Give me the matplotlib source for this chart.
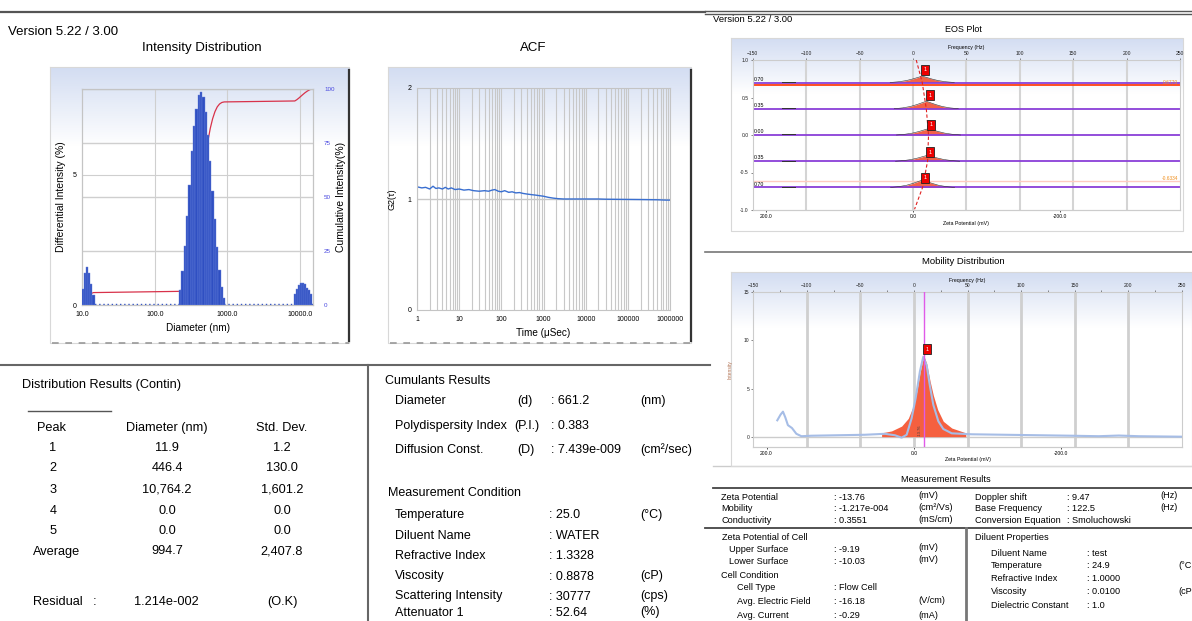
import numpy as np
import matplotlib
matplotlib.use("Agg")
import matplotlib.pyplot as plt
from matplotlib.colors import LinearSegmentedColormap

plt.rcParams['font.family'] = ['Liberation Sans', 'DejaVu Sans']

W, H = 1192, 621

# ---- intensity distribution (Contin) ----
p1_d = [10.3, 11.0, 11.8, 12.6, 13.4, 14.4]
p1_h = [0.63, 1.23, 1.46, 1.23, 0.82, 0.38]
p2_d = [224, 241, 260, 280, 301, 324, 348, 375, 403, 434,
        467, 502, 541, 581, 625, 673, 724, 779, 838, 902]
p2_h = [0.57, 1.30, 2.28, 3.42, 4.60, 5.90, 6.87, 7.53, 8.06, 8.16,
        7.97, 7.40, 6.52, 5.53, 4.37, 3.29, 2.22, 1.33, 0.70, 0.25]
p3_d = [8430, 9000, 9600, 10250, 10950, 11700, 12480, 13320, 14220]
p3_h = [0.44, 0.60, 0.76, 0.85, 0.85, 0.80, 0.67, 0.57, 0.44]
diam_ticks = [10, 100, 1000, 10000]
diam_labels = ['10.0', '100.0', '1000.0', '10000.0']

# ---- ACF ----
acf_t = [1, 1.3, 1.6, 2, 2.4, 2.8, 3.3, 4, 4.7, 5.5, 6.5, 8, 10, 13, 17, 22,
         30, 40, 50, 60, 70, 85, 100, 120, 150, 180, 220, 270, 330, 400, 500,
         650, 800, 1000, 1300, 1700, 2200, 3000, 5000, 10000, 20000, 30000,
         50000, 100000, 200000, 500000, 800000, 1000000]
acf_g = [1.11, 1.10, 1.105, 1.09, 1.115, 1.095, 1.10, 1.09, 1.105, 1.09, 1.10,
         1.085, 1.09, 1.08, 1.085, 1.075, 1.07, 1.075, 1.07, 1.08, 1.085, 1.07,
         1.065, 1.075, 1.06, 1.065, 1.055, 1.058, 1.05, 1.045, 1.04, 1.035,
         1.03, 1.025, 1.015, 1.008, 1.003, 1.0, 1.0, 1.0, 1.0, 0.998, 0.997,
         0.996, 0.995, 0.993, 0.99, 0.99]
acf_ticks = [1, 10, 100, 1000, 10000, 100000, 1000000]
acf_labels = ['1', '10', '100', '1000', '10000', '100000', '1000000']

# ---- EOS plot ----
eos_levels = [0.70, 0.35, 0.0, -0.35, -0.70]
eos_level_labels = ['0.70', '0.35', '0.00', '0.35', '0.70']
eos_center = [8.7, 12.5, 14.6, 13.7, 9.0]      # Hz
eos_height = [0.085, 0.10, 0.085, 0.08, 0.10]
eos_mark_f = [11.5, 16.0, 17.1, 16.0, 11.3]
eos_mark_y = [0.867, 0.533, 0.137, -0.231, -0.573]
peak_off = [-30, -22, -15, -9, -4, 0, 4, 9, 15, 22, 30]
peak_rel = [0.0, 0.12, 0.3, 0.55, 0.8, 1.0, 0.8, 0.55, 0.3, 0.12, 0.0]
eos_fit_f = [3.1, 8.7, 12.5, 14.6, 13.7, 9.0, 1.5]
eos_fit_y = [1.0, 0.70, 0.35, 0.0, -0.35, -0.70, -0.99]
freq_ticks = [-150, -100, -50, 0, 50, 100, 150, 200, 250]
zeta_ticks = [200, 0, -200]
zeta_labels = ['200.0', '0.0', '-200.0']

# ---- mobility distribution ----
mob_f = [-127.6, -124.5, -122.3, -120.1, -117.7, -113.9, -109.8, -105.1, -95.8,
         -70.9, -45.9, -27.2, -17.8, -11.5, -6.8, -2.2, 1.6, 5.6, 8.7, 11.9,
         15.0, 18.1, 22.8, 27.4, 35.3, 54.0, 85.2, 116.4, 147.6, 172.6, 191.3,
         210.0, 250.0]
mob_i = [1.7, 2.3, 2.6, 2.0, 1.2, 0.9, 0.3, 0.05, 0.1, 0.15, 0.2, 0.3, 0.15,
         -0.1, 0.2, 1.9, 4.0, 6.8, 8.3, 7.4, 5.2, 3.3, 1.6, 0.8, 0.35, 0.25,
         0.2, 0.15, 0.1, 0.05, 0.12, 0.05, 0.0]
fit_f = [-30.2, -20.9, -11.5, -5.3, -0.6, 2.5, 5.6, 9.1, 11.9, 15.0, 18.1,
         22.2, 27.4, 35.3, 48.4]
fit_i = [0.4, 0.6, 1.1, 1.9, 3.2, 4.6, 6.6, 8.45, 7.6, 5.8, 4.3, 2.8, 1.6,
         0.9, 0.4]
doppler = 9.47
hz_to_mv = -13.76 / 9.47

fig = plt.figure(figsize=(W / 100, H / 100), dpi=100)
bg = fig.add_axes([0, 0, 1, 1])
bg.set_zorder(-10)
bg.axis('off')


def px_axes(x0, y0, x1, y1):
    a = fig.add_axes([x0 / W, 1 - y1 / H, (x1 - x0) / W, (y1 - y0) / H])
    a.set_facecolor('none')
    return a


grad_cmap = LinearSegmentedColormap.from_list('g', ['#d3ddf2', '#ffffff'])
grad = np.clip(np.linspace(0, 3.5, 200), 0, 1).reshape(-1, 1)


def frame(x0, y0, x1, y1, shadow=True):
    bg.imshow(grad, extent=(x0, x1, y1, y0), aspect='auto', cmap=grad_cmap, zorder=0)
    bg.plot([x0, x1, x1, x0, x0], [y0, y0, y1, y1, y0], color='#d8d8d8', lw=0.8)
    if shadow:
        bg.plot([x1, x1], [y0 + 3, y1 - 2], color='#333333', lw=1.6)
        bg.plot([x0 + 2, x1], [y1, y1], color='#999999', lw=1.2, ls=(0, (4, 4)))


def txt(x, y, s, size=9.2, ha='left', **kw):
    bg.text(x, y, s, fontsize=size, ha=ha, va='center', **kw)


# separators
bg.plot([0, 705], [12, 12], color='#555555', lw=1.6)
bg.plot([705, W], [11, 11], color='#555555', lw=1)
bg.plot([705, W], [14, 14], color='#555555', lw=1)
bg.plot([0, 710], [365, 365], color='#666666', lw=1.5)
bg.plot([368, 368], [365, H], color='#666666', lw=1.5)
bg.plot([705, W], [252, 252], color='#777777', lw=1.2)
bg.plot([713, W], [466, 466], color='#cccccc', lw=1)

frame(50, 67, 349, 343)
frame(388, 67, 691, 343)
frame(731, 38, 1183, 231, shadow=False)
frame(731, 272, 1192, 466, shadow=False)

txt(8, 32, 'Version 5.22 / 3.00', 9.5)
txt(202, 48, 'Intensity Distribution', 9.5, ha='center')
txt(533, 48, 'ACF', 9.5, ha='center')
txt(713, 19, 'Version 5.22 / 3.00', 6.8)
txt(963, 30, 'EOS Plot', 6.5, ha='center')
txt(963, 262, 'Mobility Distribution', 6.8, ha='center')

# ---------------- intensity distribution ----------------
ax_i = px_axes(82, 89, 313, 305)
ax_c = ax_i.twinx()
ax_c.set_facecolor('none')
ax_i.set_zorder(2)
ax_c.set_zorder(1)
ax_i.set_xscale('log')
hw = 0.016
all_d = p1_d + p2_d + p3_d
all_h = p1_h + p2_h + p3_h
left = [d * 10 ** (-hw) for d in all_d]
widths = [d * (10 ** hw - 10 ** (-hw)) for d in all_d]
ax_i.bar(left, all_h, width=widths, align='edge', color='#2f4fc2',
         edgecolor='#6a84dc', lw=0.3, zorder=3)
ax_i.axhline(0.03, color='#3152c4', ls=(0, (1, 2)), lw=1, zorder=2)
ax_i.set_xlim(10, 15000)
ax_i.set_ylim(0, 8.28)
ax_i.set_xticks(diam_ticks)
ax_i.set_xticklabels(diam_labels)
ax_i.xaxis.set_minor_locator(matplotlib.ticker.NullLocator())
ax_i.set_yticks([0, 5])
ax_i.tick_params(length=0, labelsize=5, pad=4)
ax_c.axhline(5 / 8.28 * 100, color='#cfcfcf', lw=0.8, zorder=0)
for xv in diam_ticks[1:]:
    ax_c.axvline(xv, color='#cfcfcf', lw=0.8, zorder=0)
cum = np.cumsum(all_h) / np.sum(all_h) * 100
ax_c.plot(all_d, cum, color='#d8324a', lw=0.9, zorder=2)
ax_c.set_ylim(0, 100)
ax_c.set_yticks([0, 25, 50, 75, 100])
ax_c.tick_params(length=0, labelsize=4.5, labelcolor='#4848e0', pad=8)
ax_c.grid(axis='y', color='#cfcfcf', lw=1)
for a in (ax_i, ax_c):
    for s in a.spines.values():
        s.set_color('#c4c4c4')
        s.set_linewidth(0.8)
ax_i.set_xlabel('Diameter (nm)', fontsize=7.2, labelpad=4)
ax_i.set_ylabel('Differential Intensity (%)', fontsize=7.5, labelpad=5)
ax_c.set_ylabel('Cumulative Intensity(%)', fontsize=7.5, labelpad=1)

# ---------------- ACF ----------------
ax_a = px_axes(417, 88, 670, 310)
ax_a.set_xscale('log')
ax_a.plot(acf_t, acf_g, color='#3a6fd0', lw=1)
ax_a.axhline(1, color='#c8c8c8', lw=1, zorder=0)
ax_a.set_xlim(1, 1000000)
ax_a.set_ylim(0, 2)
ax_a.set_xticks(acf_ticks)
ax_a.set_xticklabels(acf_labels)
ax_a.set_yticks([0, 1, 2])
ax_a.grid(axis='x', which='both', color='#c8c8c8', lw=0.8)
ax_a.set_axisbelow(True)
ax_a.tick_params(which='both', length=0, labelsize=5, pad=4)
for s in ax_a.spines.values():
    s.set_color('#c4c4c4')
    s.set_linewidth(0.8)
ax_a.set_xlabel('Time (\u03bcSec)', fontsize=7.2, labelpad=4)
ax_a.set_ylabel('G2(\u03c4)', fontsize=6.5, labelpad=8)

# ---------------- EOS plot ----------------
ax_e = px_axes(752.7, 60, 1180, 210)
ax_e.set_xlim(-150, 250)
ax_e.set_ylim(-1, 1)
for f in freq_ticks[1:-1]:
    ax_e.axvline(f, color='#d4d4d4', lw=1.5, zorder=0)
for k, lev in enumerate(eos_levels):
    xs = [eos_center[k] + o for o in peak_off]
    ys = [lev + r * eos_height[k] for r in peak_rel]
    ax_e.fill_between(xs, lev, ys, color='#f26248', lw=0, zorder=2)
    ax_e.plot(xs, ys, color='#333333', lw=0.4, zorder=3)
    ax_e.plot([-123, -110], [lev + 0.01, lev + 0.01], color='#333333', lw=0.7, zorder=3)
    ax_e.axhline(lev, color='#8a3fd8', lw=1.3, zorder=2)
    ax_e.text(-149, lev + 0.045, eos_level_labels[k], fontsize=3.8, va='center')
ax_e.axhline(0.667, color='#ff4010', lw=1.3, zorder=2)
ax_e.axhline(-0.613, color='#ffccc0', lw=1, zorder=1)
ax_e.text(248, 0.70, '0.6770', fontsize=3.5, color='#f09020', ha='right', va='center')
ax_e.text(248, -0.585, '-0.6334', fontsize=3.5, color='#f09020', ha='right', va='center')
ax_e.plot(eos_fit_f, eos_fit_y, color='#e02020', lw=0.8, ls=(0, (3, 2)), zorder=4)
for f, y in zip(eos_mark_f, eos_mark_y):
    ax_e.text(f, y, '1', fontsize=4, color='white', ha='center', va='center', zorder=5,
              bbox=dict(boxstyle='square,pad=0.45', fc='#ee0000', ec='#222222', lw=0.6))
ax_e.set_yticks([1.0, 0.5, 0.0, -0.5, -1.0])
ax_e.set_yticklabels(['1.0', '0.5', '0.0', '-0.5', '-1.0'])
ax_e.xaxis.tick_top()
ax_e.set_xticks(freq_ticks)
ax_e.tick_params(labelsize=3.6, length=1.5, width=0.5, pad=1.5, colors='#555555', labelcolor='#222222')
ax_e.set_xlabel('Frequency (Hz)', fontsize=3.8, labelpad=1)
ax_e.xaxis.set_label_position('top')
sec_e = ax_e.secondary_xaxis('bottom', functions=(lambda f: f * hz_to_mv, lambda z: z / hz_to_mv))
sec_e.set_xticks(zeta_ticks)
sec_e.set_xticklabels(zeta_labels)
sec_e.tick_params(labelsize=3.6, length=1.5, width=0.5, pad=1.5)
sec_e.set_xlabel('Zeta Potential (mV)', fontsize=3.8, labelpad=1)
for s in list(ax_e.spines.values()) + list(sec_e.spines.values()):
    s.set_color('#cccccc')

# ---------------- mobility distribution ----------------
ax_m = px_axes(753.3, 292.3, 1181.7, 446.7)
ax_m.set_xlim(-150, 250)
ax_m.set_ylim(-1.04, 15)
for f in freq_ticks[1:-1]:
    ax_m.axvline(f, color='#cfcfcf', lw=2, zorder=0)
ax_m.axhline(0, color='#cccccc', lw=1, zorder=0)
ax_m.fill_between(fit_f, 0, fit_i, color='#f5603f', lw=0, zorder=2)
ax_m.plot(mob_f, mob_i, color='#a6bde6', lw=1.5, zorder=3)
ax_m.axvline(doppler, color='#e05ae8', lw=1, zorder=4)
ax_m.text(doppler - 2.5, 0.1, '-13.76', fontsize=3, rotation=90, ha='right', va='bottom', color='#444444')
ax_m.text(12.2, 9.1, '1', fontsize=4, color='white', ha='center', va='center', zorder=5,
          bbox=dict(boxstyle='square,pad=0.45', fc='#ee0000', ec='#222222', lw=0.6))
ax_m.xaxis.tick_top()
ax_m.set_xticks(freq_ticks)
ax_m.set_xticks(range(-150, 251, 25), minor=True)
ax_m.set_yticks([0, 5, 10, 15])
ax_m.tick_params(which='both', labelsize=3.6, length=1.5, width=0.5, pad=1.5, colors='#555555', labelcolor='#222222')
ax_m.set_xlabel('Frequency (Hz)', fontsize=3.8, labelpad=1)
ax_m.xaxis.set_label_position('top')
ax_m.set_ylabel('Intensity', fontsize=3.6, color='#b07050', labelpad=8)
sec_m = ax_m.secondary_xaxis('bottom', functions=(lambda f: f * hz_to_mv, lambda z: z / hz_to_mv))
sec_m.set_xticks(zeta_ticks)
sec_m.set_xticklabels(zeta_labels)
sec_m.tick_params(labelsize=3.6, length=1.5, width=0.5, pad=1.5)
sec_m.set_xlabel('Zeta Potential (mV)', fontsize=3.8, labelpad=1)
for s in list(ax_m.spines.values()) + list(sec_m.spines.values()):
    s.set_color('#cccccc')

# ---------------- distribution results table ----------------
peaks = ['1', '2', '3', '4', '5']
peak_diam = ['11.9', '446.4', '10,764.2', '0.0', '0.0']
peak_sd = ['1.2', '130.0', '1,601.2', '0.0', '0.0']
avg_diam, avg_sd = '994.7', '2,407.8'
residual = '1.214e-002'

txt(22, 385, 'Distribution Results (Contin)', 9.2)
bg.plot([28, 111], [411, 411], color='#555555', lw=1)
txt(52, 428, 'Peak', 9.2, ha='center')
txt(167, 428, 'Diameter (nm)', 9.2, ha='center')
txt(282, 428, 'Std. Dev.', 9.2, ha='center')
row_y = [448, 468, 490, 511, 531.5]
for y, p, d, s in zip(row_y, peaks, peak_diam, peak_sd):
    txt(53, y, p, 9.2, ha='center')
    txt(167, y, d, 9.2, ha='center')
    txt(282, y, s, 9.2, ha='center')
txt(33, 551.5, 'Average', 9.2)
txt(167, 551.5, avg_diam, 9.2, ha='center')
txt(282, 551.5, avg_sd, 9.2, ha='center')
txt(33, 602, 'Residual   :', 9.2)
txt(166, 602, residual, 9.2, ha='center')
txt(282, 602, '(O.K)', 9.2, ha='center')

# ---------------- cumulants / measurement condition ----------------
txt(385, 381, 'Cumulants Results', 9)
cum_rows = [('Diameter', '(d)', ': 661.2', '(nm)', 401),
            ('Polydispersity Index', '(P.I.)', ': 0.383', '', 426),
            ('Diffusion Const.', '(D)', ': 7.439e-009', '(cm\u00b2/sec)', 450)]
for name, sym, val, unit, y in cum_rows:
    txt(395, y, name, 9)
    txt(514 if sym == '(P.I.)' else 517, y, sym, 9)
    txt(551, y, val, 9)
    txt(640, y, unit, 9)
txt(388, 493, 'Measurement Condition', 9)
cond_rows = [('Temperature', ': 25.0', '(\u00b0C)', 515),
             ('Diluent Name', ': WATER', '', 536),
             ('Refractive Index', ': 1.3328', '', 556),
             ('Viscosity', ': 0.8878', '(cP)', 576.5),
             ('Scattering Intensity', ': 30777', '(cps)', 596.5),
             ('Attenuator 1', ': 52.64', '(%)', 612.5)]
for name, val, unit, y in cond_rows:
    txt(395, y, name, 9)
    txt(549, y, val, 9)
    txt(640, y, unit, 9)

# ---------------- measurement results (zeta) ----------------
fs = 6.6
txt(946, 480, 'Measurement Results', fs, ha='center')
bg.plot([713, W], [487.5, 487.5], color='#444444', lw=1.3)
bg.plot([705, W], [527.5, 527.5], color='#444444', lw=1.3)
bg.plot([965.5, 965.5], [528, H], color='#777777', lw=2)
res_rows = [('Zeta Potential', ': -13.76', '(mV)', 'Doppler shift', ': 9.47', '(Hz)', 497),
            ('Mobility', ': -1.217e-004', '(cm\u00b2/Vs)', 'Base Frequency', ': 122.5', '(Hz)', 508.5),
            ('Conductivity', ': 0.3551', '(mS/cm)', 'Conversion Equation', ': Smoluchowski', '', 520.5)]
for a, b, c, d, e, f, y in res_rows:
    txt(721, y, a, fs)
    txt(834, y, b, fs)
    txt(918, y - 1.5, c, fs)
    txt(975, y, d, fs)
    txt(1067, y, e, fs)
    txt(1160, y - 1.5, f, fs)
txt(722, 537.5, 'Zeta Potential of Cell', fs)
txt(729, 549.5, 'Upper Surface', fs)
txt(834, 549.5, ': -9.19', fs)
txt(918, 548, '(mV)', fs)
txt(729, 562, 'Lower Surface', fs)
txt(834, 562, ': -10.03', fs)
txt(918, 560, '(mV)', fs)
txt(721, 575, 'Cell Condition', fs)
txt(737, 587.5, 'Cell Type', fs)
txt(834, 587.5, ': Flow Cell', fs)
txt(737, 601.5, 'Avg. Electric Field', fs)
txt(834, 601.5, ': -16.18', fs)
txt(918, 600.5, '(V/cm)', fs)
txt(737, 616, 'Avg. Current', fs)
txt(834, 616, ': -0.29', fs)
txt(918, 615, '(mA)', fs)
txt(975, 537, 'Diluent Properties', fs)
dil_rows = [('Diluent Name', ': test', '', 553),
            ('Temperature', ': 24.9', '(\u00b0C', 566),
            ('Refractive Index', ': 1.0000', '', 578.5),
            ('Viscosity', ': 0.0100', '(cP', 592),
            ('Dielectric Constant', ': 1.0', '', 605)]
for name, val, unit, y in dil_rows:
    txt(991, y, name, fs)
    txt(1087, y, val, fs)
    txt(1178, y, unit, fs)

bg.set_xlim(0, W)
bg.set_ylim(H, 0)
fig.savefig('out.png', dpi=100)
